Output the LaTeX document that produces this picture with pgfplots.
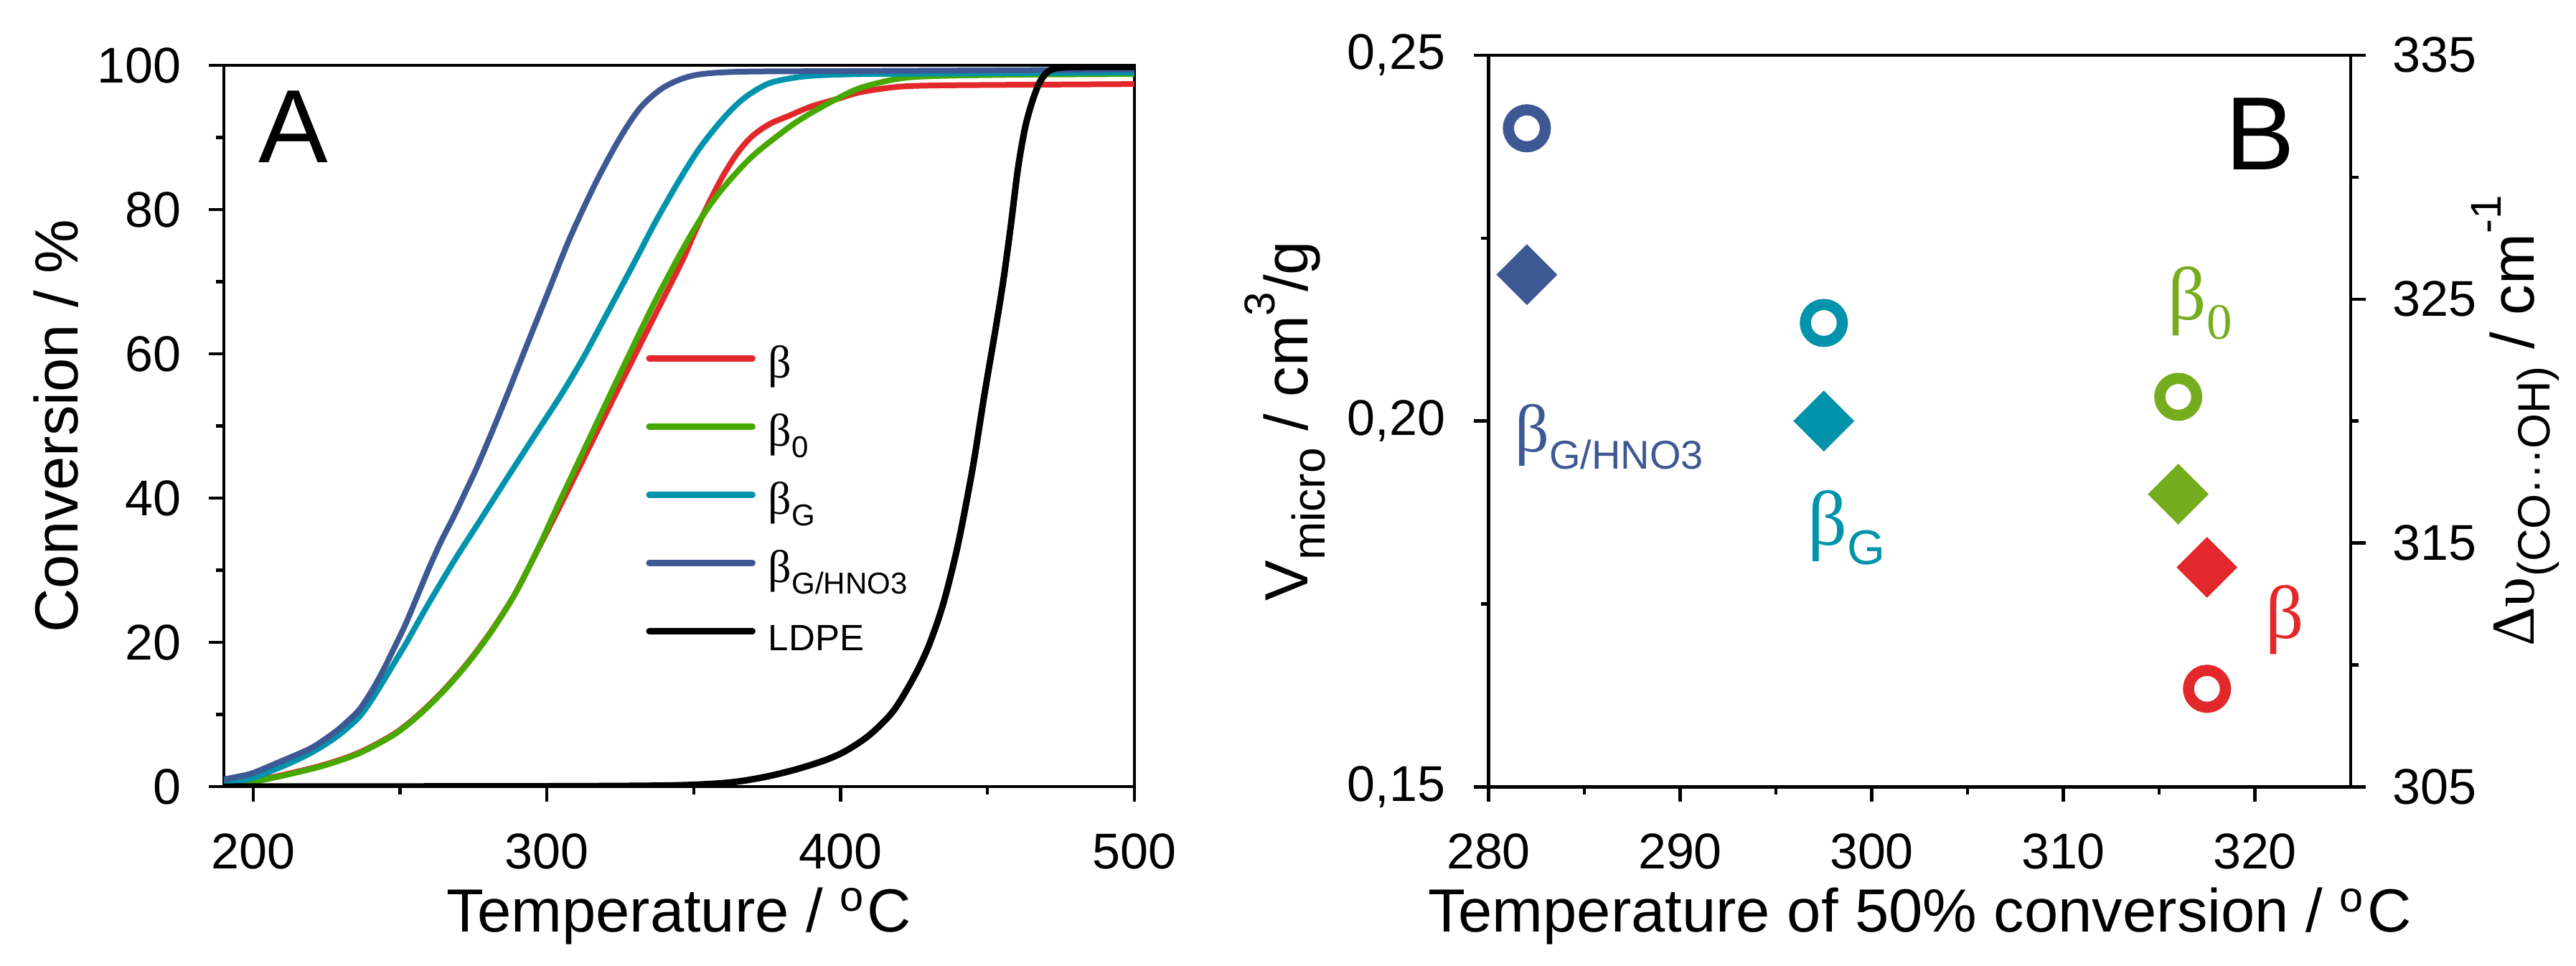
\documentclass[border=0pt]{standalone}
\usepackage{fontspec}
\setmainfont{Liberation Sans}
\newfontfamily\serifb{Liberation Serif}
\usepackage{pgfplots}
\pgfplotsset{compat=1.18}

\definecolor{cred}{HTML}{E3282B}
\definecolor{cgreen}{HTML}{46A800}
\definecolor{cgreenB}{HTML}{76AD1F}
\definecolor{cteal}{HTML}{0093AB}
\definecolor{cnavy}{HTML}{3E5894}

\newcommand\lsub[1]{\raisebox{-1.6pt}{\fontsize{4.2}{5}\selectfont #1}}
\newcommand\lb{{\serifb\fontsize{6.4}{7}\selectfont β}}

\pgfplotsset{
  mystyle/.style={
    scale only axis,
    axis line style={line width=0.43pt},
    tick align=outside,
    major tick length=2.05pt,
    minor tick length=1.1pt,
    every tick/.style={black, line width=0.43pt},
    tick label style={font=\fontsize{7}{8}\selectfont},
    label style={font=\fontsize{8.5}{10}\selectfont},
    /pgf/number format/assume math mode=true,
    xticklabel style={anchor=north, inner sep=0pt, yshift=-4.3pt},
  }
}

\begin{document}
\begin{tikzpicture}
\useasboundingbox (0,0) rectangle (359pt,134.5pt);

% ---------------- Panel A ----------------
\begin{axis}[mystyle,
  at={(31.18pt,24.9pt)}, anchor=south west,
  width=126.9pt, height=100.5pt,
  xmin=190, xmax=500, ymin=0, ymax=100,
  xtick={200,300,400,500}, minor xtick={250,350,450},
  ytick={0,20,40,60,80,100}, minor ytick={10,30,50,70,90},
  xtick pos=bottom, ytick pos=left,
  yticklabel style={anchor=east, inner sep=0pt, xshift=-3.7pt},
  xlabel={Temperature / \textsuperscript{o}C},
  ylabel={Conversion / \%},
  xlabel style={at={(axis description cs:0.5,-0.201)}, anchor=base},
  ylabel style={at={(axis description cs:-0.16,0.5)}, anchor=base},
  legend style={draw=none, fill=none, inner sep=0pt, outer sep=0pt,
    row sep=0pt, column sep=1.8pt,
    at={(axis cs:333.8,62.3)}, anchor=north west,
    font=\fontsize{5.1}{6}\selectfont,
    nodes={inner sep=0pt, text height=5.7pt, text depth=3.8pt}},
  legend cell align=left,
  legend image code/.code={\draw[#1, line width=0.85pt, line cap=round] (0.4pt,1.8pt) -- (14.8pt,1.8pt);},
]
\addplot[cred, line width=0.8pt, smooth] coordinates {
(192,0)(199.3,0.7)(210,1.6)(224,3.0)(236,4.7)(248,7.3)(256.4,10.0)(264.5,13.2)
(272.7,17.0)(280.8,21.4)(289,26.6)(297,32.9)(305,39.3)(315,47.5)(325.7,56.3)
(336,64.7)(346,72.8)(350,76.5)(355,80.8)(360,84.7)(365,87.9)(370,90.2)(376,91.9)
(382.4,93.0)(390,94.3)(399.4,95.4)(407,96.3)(419,97.0)(431,97.2)(460,97.3)(500,97.4)};
\addlegendentry{\lb}
\addplot[cgreen, line width=0.8pt, smooth] coordinates {
(192,0)(199.3,0.6)(210,1.5)(224,2.9)(236,4.6)(248,7.2)(256.4,9.9)(264.5,13.1)
(272.7,16.9)(280.8,21.3)(289,26.6)(297,33.0)(304,39.2)(315,48.7)(325.7,57.9)
(336,66.6)(346,74.3)(353,79.1)(360,83.0)(370,87.4)(382.4,91.4)(390,93.4)
(399.4,95.5)(407,96.9)(419,98.1)(431,98.5)(460,98.7)(500,98.8)};
\addlegendentry{\lb\lsub{0}}
\addplot[cteal, line width=0.8pt, smooth] coordinates {
(190,0.5)(195,0.8)(200,1.2)(210,2.8)(218,4.3)(224,5.7)(230,7.4)(236,9.6)(240,11.8)
(244,14.4)(248,17.1)(252,19.8)(256,22.7)(260.5,25.9)(268.6,31.4)(276.8,36.6)
(284,41.2)(290,45.0)(297,49.4)(305,54.4)(312.6,59.6)(320,65.2)(329.7,72.6)
(337,78.3)(345,84.0)(352,88.5)(360,92.6)(367,95.4)(375,97.4)(383,98.2)(392,98.6)
(410,98.8)(450,98.9)(500,99.0)};
\addlegendentry{\lb\lsub{G}}
\addplot[cnavy, line width=0.8pt, smooth] coordinates {
(190,1.0)(195,1.4)(200,1.9)(210,3.6)(220,5.4)(228,7.6)(232,9.0)(236,10.6)(240,13.0)
(244,15.9)(248,19.2)(252,22.6)(256,26.5)(260,30.4)(264,34.0)(268,37.2)(272,40.6)
(277,45.0)(285,52.8)(293,61.0)(300,68.1)(308,76.2)(317,84.0)(325,90.0)(332,94.2)
(340,97.0)(350,98.6)(365,99.1)(400,99.2)(450,99.3)(500,99.4)};
\addlegendentry{\lb\lsub{G/HNO3}}
\addplot[black, line width=0.9pt, smooth] coordinates {
(190,0)(300,0.05)(340,0.15)(355,0.35)(365,0.7)(375,1.4)(385,2.4)(395,3.7)
(402,5.0)(410,7.2)(418,10.5)(425,15.2)(430,19.5)(435,25.4)(440,33.6)(445,44.2)
(449,54.4)(453,64.0)(455.5,70.4)(458,77.9)(460.4,85.7)(462.8,91.3)(465.2,94.9)
(467.6,97.5)(470,98.9)(472.5,99.5)(478,99.75)(500,99.8)};
\addlegendentry{LDPE}
\node[anchor=base west, inner sep=0pt, font=\fontsize{14.5}{16}\selectfont] at (axis cs:201.3,86.5) {A};
\end{axis}

% ---------------- Panel B (left axis) ----------------
\begin{axis}[mystyle,
  at={(207.45pt,24.86pt)}, anchor=south west,
  width=120.15pt, height=101.96pt,
  xmin=280, xmax=325, ymin=0.15, ymax=0.25,
  xtick={280,290,300,310,320}, minor xtick={285,295,305,315},
  ytick={0.15,0.2,0.25}, yticklabels={{0,15},{0,20},{0,25}},
  minor ytick={0.175,0.225},
  xtick pos=bottom, ytick pos=left,
  yticklabel style={anchor=east, inner sep=0pt, xshift=-3.8pt},
  xlabel={Temperature of 50\% conversion / \textsuperscript{o}C},
  ylabel={V\raisebox{-2.4pt}{\fontsize{6.4}{7}\selectfont micro} / cm\raisebox{4.6pt}{\fontsize{6}{7}\selectfont 3}/g},
  xlabel style={at={(axis description cs:0.5,-0.198)}, anchor=base},
  ylabel style={at={(axis description cs:-0.2097,0.5)}, anchor=base},
]
\addplot[only marks, mark=o, mark size=2.575pt, mark options={cnavy, line width=1.55pt}] coordinates {(282.0,0.2400)};
\addplot[only marks, mark=o, mark size=2.575pt, mark options={cteal, line width=1.55pt}] coordinates {(297.5,0.2134)};
\addplot[only marks, mark=o, mark size=2.575pt, mark options={cgreenB, line width=1.55pt}] coordinates {(316.0,0.2033)};
\addplot[only marks, mark=o, mark size=2.575pt, mark options={cred, line width=1.55pt}] coordinates {(317.5,0.1634)};

\node[anchor=base west, inner sep=0pt, text=cnavy] at (axis cs:281.3,0.1958)
  {{\serifb\fontsize{9.4}{10}\selectfont β}\raisebox{-2.4pt}{\fontsize{5.6}{6}\selectfont G/HNO3}};
\node[anchor=base west, inner sep=0pt, text=cteal] at (axis cs:296.6,0.1830)
  {{\serifb\fontsize{10.8}{12}\selectfont β}\raisebox{-2.7pt}{\fontsize{6.8}{7}\selectfont G}};
\node[anchor=base west, inner sep=0pt, text=cgreenB] at (axis cs:315.4,0.2138)
  {{\serifb\fontsize{10.5}{12}\selectfont β\raisebox{-2.7pt}{\fontsize{7.1}{8}\selectfont 0}}};
\node[anchor=base west, inner sep=0pt, text=cred] at (axis cs:320.5,0.1703)
  {{\serifb\fontsize{10.5}{12}\selectfont β}};
\node[anchor=base west, inner sep=0pt, font=\fontsize{14.5}{16}\selectfont] at (axis cs:318.4,0.2343) {B};
\end{axis}

% ---------------- Panel B (right axis) ----------------
\begin{axis}[mystyle,
  at={(207.45pt,24.86pt)}, anchor=south west,
  width=120.15pt, height=101.96pt,
  xmin=280, xmax=325, ymin=305, ymax=335,
  axis x line=none, axis y line*=right,
  ytick={305,315,325,335}, minor ytick={310,320,330},
  yticklabel style={anchor=west, inner sep=0pt, xshift=3.6pt},
  ylabel={{\serifb Δυ}\raisebox{-2.2pt}{\fontsize{6.3}{7}\selectfont (CO···OH)} / cm\raisebox{4.6pt}{\fontsize{6}{7}\selectfont -1}},
  ylabel style={at={(axis description cs:1.213,0.5)}, anchor=base},
]
\addplot[only marks, color=cnavy, mark=square*, mark size=2.9pt, mark options={rotate=45, line width=0.2pt}] coordinates {(282.0,326.0)};
\addplot[only marks, color=cteal, mark=square*, mark size=2.9pt, mark options={rotate=45, line width=0.2pt}] coordinates {(297.5,320.0)};
\addplot[only marks, color=cgreenB, mark=square*, mark size=2.9pt, mark options={rotate=45, line width=0.2pt}] coordinates {(316.0,317.0)};
\addplot[only marks, color=cred, mark=square*, mark size=2.9pt, mark options={rotate=45, line width=0.2pt}] coordinates {(317.5,314.0)};
\end{axis}
\end{tikzpicture}
\end{document}
